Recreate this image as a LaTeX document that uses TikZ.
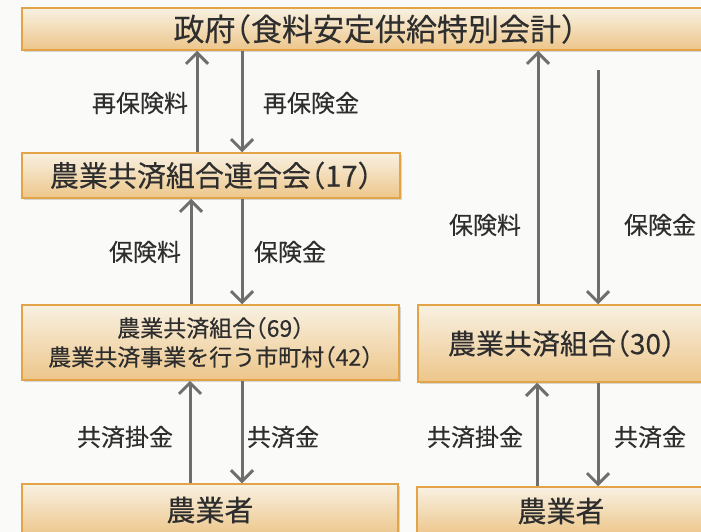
\documentclass[tikz,border=0pt]{standalone}
\usepackage{fontspec}
\newfontfamily\jp[RawFeature=+halt, FakeBold=0.3]{Noto Sans CJK JP}
\usetikzlibrary{arrows.meta,shadows}
\definecolor{txt}{HTML}{2E2E2E}
\definecolor{boxedge}{HTML}{E2A447}
\definecolor{boxtop}{HTML}{F8F1E2}
\definecolor{boxbot}{HTML}{EDC68A}
\definecolor{arrgray}{HTML}{6E6E6E}
\definecolor{bg}{HTML}{FAFAF8}
\begin{document}
\begin{tikzpicture}[x=1pt,y=-1pt,
  box/.style={draw=boxedge, line width=1.5pt, top color=boxtop, bottom color=boxbot,
    drop shadow={shadow xshift=1.5pt,shadow yshift=-2pt,fill=black!30},
    inner sep=0pt, text=txt, align=center},
  arr/.style={draw=arrgray, line width=3pt, -{Straight Barb[length=11pt,width=22pt,line width=3pt]}},
  lbl/.style={font=\jp\fontsize{24}{28}\selectfont, text=txt}]
\fill[bg] (0,0) rectangle (701,532);
\useasboundingbox (0,0) rectangle (701,532);
% boxes
\node[box, minimum width=706pt, minimum height=42pt, font=\jp\fontsize{31}{34}\selectfont] (gov) at (375,29) {政府（食料安定供給特別会計）};
\node[box, minimum width=378pt, minimum height=45pt, font=\jp\fontsize{29}{32}\selectfont] (lian) at (211,175.5) {農業共済組合連合会（17）};
\node[box, minimum width=377pt, minimum height=75pt, font=\jp\fontsize{23}{29}\selectfont] (kumi1) at (210.5,342.5) {農業共済組合（69）\\農業共済事業を行う市町村（42）};
\node[box, minimum width=287pt, minimum height=77pt, font=\jp\fontsize{28}{30}\selectfont] (kumi2) at (561.5,343.5) {農業共済組合（30）};
\node[box, minimum width=376pt, minimum height=52pt, font=\jp\fontsize{29}{30}\selectfont] (farm1) at (210,510) {農業者};
\node[box, minimum width=288pt, minimum height=48pt, font=\jp\fontsize{29}{30}\selectfont] (farm2) at (561,511) {農業者};
\coordinate (rstart) at (598,70);
% arrows left column
\draw[arr] (lian.north -| 197,0) -- (gov.south -| 197,0);
\draw[arr] (gov.south -| 242,0) -- (lian.north -| 242,0);
\draw[arr] (kumi1.north -| 191,0) -- (lian.south -| 191,0);
\draw[arr] (lian.south -| 242,0) -- (kumi1.north -| 242,0);
\draw[arr] (farm1.north -| 190,0) -- (kumi1.south -| 190,0);
\draw[arr] (kumi1.south -| 242,0) -- (farm1.north -| 242,0);
% arrows right column
\draw[arr] (kumi2.north -| 538,0) -- (gov.south -| 538,0);
\draw[arr] (rstart) -- (kumi2.north -| 598,0);
\draw[arr] (farm2.north -| 537,0) -- (kumi2.south -| 537,0);
\draw[arr] (kumi2.south -| 598,0) -- (farm2.north -| 598,0);
% labels
\node[lbl] (l1) at (140,103) {再保険料};
\node[lbl] (l2) at (311,103) {再保険金};
\node[lbl] (l3) at (145,252) {保険料};
\node[lbl] (l4) at (290,252) {保険金};
\node[lbl] (l5) at (485,225) {保険料};
\node[lbl] (l6) at (660,225) {保険金};
\node[lbl] (l7) at (125,437) {共済掛金};
\node[lbl] (l8) at (283,437) {共済金};
\node[lbl] (l9) at (475,437) {共済掛金};
\node[lbl] (l10) at (650,437) {共済金};
\end{tikzpicture}
\end{document}
